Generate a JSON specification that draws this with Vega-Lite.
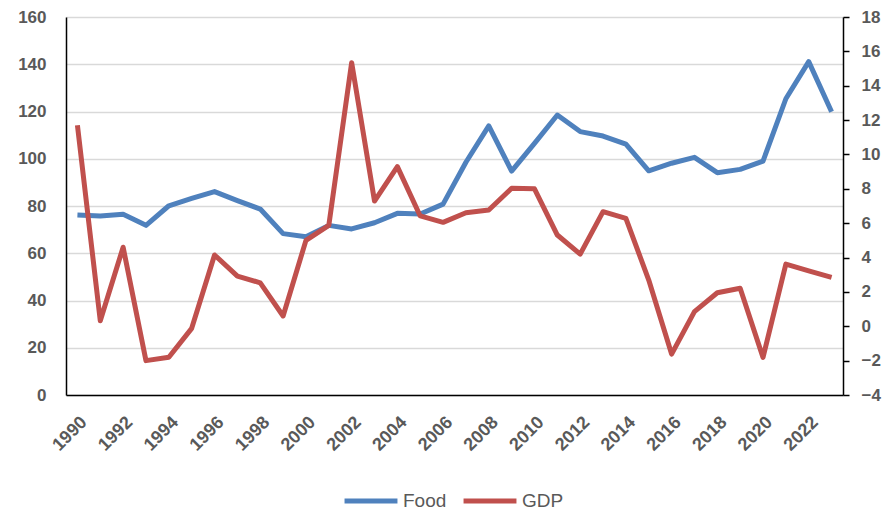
{
  "$schema": "https://vega.github.io/schema/vega-lite/v6.json",
  "autosize": "none",
  "width": 777,
  "height": 378,
  "padding": {"left": 66, "top": 17, "right": 41, "bottom": 116},
  "background": "white",
  "data": {"values": [
    {"year": 1990, "food": 76.2, "gdp": 11.7},
    {"year": 1991, "food": 75.8, "gdp": 0.32},
    {"year": 1992, "food": 76.5, "gdp": 4.6},
    {"year": 1993, "food": 71.8, "gdp": -2.0},
    {"year": 1994, "food": 80.1, "gdp": -1.8},
    {"year": 1995, "food": 83.2, "gdp": -0.12},
    {"year": 1996, "food": 86.1, "gdp": 4.15},
    {"year": 1997, "food": 82.3, "gdp": 2.92},
    {"year": 1998, "food": 78.7, "gdp": 2.53},
    {"year": 1999, "food": 68.3, "gdp": 0.6},
    {"year": 2000, "food": 67.0, "gdp": 5.0},
    {"year": 2001, "food": 71.8, "gdp": 5.87},
    {"year": 2002, "food": 70.3, "gdp": 15.34},
    {"year": 2003, "food": 72.9, "gdp": 7.29},
    {"year": 2004, "food": 76.9, "gdp": 9.29},
    {"year": 2005, "food": 76.6, "gdp": 6.42},
    {"year": 2006, "food": 80.8, "gdp": 6.05},
    {"year": 2007, "food": 98.5, "gdp": 6.61},
    {"year": 2008, "food": 113.9, "gdp": 6.77},
    {"year": 2009, "food": 94.8, "gdp": 8.03},
    {"year": 2010, "food": 106.5, "gdp": 8.0},
    {"year": 2011, "food": 118.5, "gdp": 5.31},
    {"year": 2012, "food": 111.5, "gdp": 4.2},
    {"year": 2013, "food": 109.6, "gdp": 6.67},
    {"year": 2014, "food": 106.2, "gdp": 6.28},
    {"year": 2015, "food": 94.9, "gdp": 2.69},
    {"year": 2016, "food": 98.1, "gdp": -1.62},
    {"year": 2017, "food": 100.6, "gdp": 0.85},
    {"year": 2018, "food": 94.1, "gdp": 1.95},
    {"year": 2019, "food": 95.5, "gdp": 2.21},
    {"year": 2020, "food": 99.0, "gdp": -1.81},
    {"year": 2021, "food": 125.4, "gdp": 3.62},
    {"year": 2022, "food": 141.1, "gdp": 3.23},
    {"year": 2023, "food": 119.9, "gdp": 2.85}
  ]},
  "config": {
    "view": {"stroke": null},
    "axis": {
      "labelFont": "Liberation Sans",
      "labelFontWeight": "bold",
      "labelColor": "#595959",
      "labelFontSize": 17,
      "domainColor": "#000000",
      "domainWidth": 1.5,
      "title": null
    },
    "legend": {
      "labelFont": "Liberation Sans",
      "labelFontSize": 19,
      "labelColor": "#595959"
    }
  },
  "encoding": {
    "x": {
      "field": "year",
      "type": "ordinal",
      "scale": {"type": "point", "padding": 0.5},
      "axis": {
        "values": [1990,1992,1994,1996,1998,2000,2002,2004,2006,2008,2010,2012,2014,2016,2018,2020,2022],
        "labelAngle": -45,
        "labelFontSize": 18,
        "ticks": false,
        "grid": false,
        "labelPadding": 18
      }
    }
  },
  "layer": [
    {
      "mark": {"type": "line", "strokeWidth": 5, "strokeJoin": "round"},
      "encoding": {
        "y": {
          "field": "food",
          "type": "quantitative",
          "scale": {"domain": [0, 160], "nice": false},
          "axis": {
            "values": [0,20,40,60,80,100,120,140,160],
            "ticks": false,
            "grid": true,
            "gridColor": "#D9D9D9",
            "gridWidth": 1.5,
            "labelPadding": 20
          }
        },
        "color": {
          "datum": "Food",
          "type": "nominal",
          "scale": {"domain": ["Food", "GDP"], "range": ["#4F81BD", "#C0504D"]},
          "legend": {
            "title": null,
            "orient": "none",
            "direction": "horizontal",
            "legendX": 276,
            "legendY": 455,
            "symbolType": "stroke",
            "symbolStrokeWidth": 5,
            "symbolSize": 2800,
            "columnPadding": 6,
            "labelOffset": 3
          }
        }
      }
    },
    {
      "mark": {"type": "line", "strokeWidth": 5, "strokeJoin": "round"},
      "encoding": {
        "y": {
          "field": "gdp",
          "type": "quantitative",
          "scale": {"domain": [-4, 18], "nice": false},
          "axis": {
            "orient": "right",
            "values": [-4,-2,0,2,4,6,8,10,12,14,16,18],
            "ticks": true,
            "tickColor": "#000000",
            "tickSize": 6,
            "tickWidth": 1.5,
            "grid": false,
            "labelPadding": 12
          }
        },
        "color": {"datum": "GDP", "type": "nominal"}
      }
    }
  ],
  "resolve": {"scale": {"y": "independent"}}
}
